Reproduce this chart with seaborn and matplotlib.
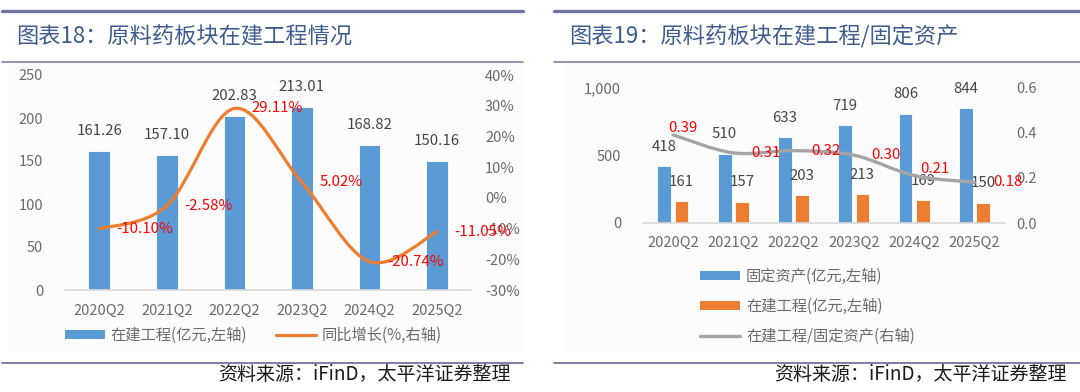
import numpy as np
import pandas as pd
import matplotlib
matplotlib.use('Agg')
import matplotlib.pyplot as plt
from matplotlib.path import Path
from matplotlib.patches import PathPatch, Rectangle, Patch
from matplotlib.lines import Line2D
from matplotlib.ticker import FuncFormatter
import seaborn as sns

# ---------------- data ----------------
quarters = ['2020Q2', '2021Q2', '2022Q2', '2023Q2', '2024Q2', '2025Q2']
cip_values = [161.26, 157.10, 202.83, 213.01, 168.82, 150.16]      # 在建工程 (亿元)
cip_yoy = [-10.10, -2.58, 29.11, 5.02, -20.74, -11.05]             # 同比增长 (%)
fixed_assets = [418, 510, 633, 719, 806, 844]                       # 固定资产 (亿元)
cip_ratio = [0.39, 0.31, 0.32, 0.30, 0.21, 0.18]                    # 在建工程/固定资产

left_title = '图表18：原料药板块在建工程情况'
right_title = '图表19：原料药板块在建工程/固定资产'
source_text = '资料来源：iFinD，太平洋证券整理'
left_legend = ['在建工程(亿元,左轴)', '同比增长(%,右轴)']
right_legend = ['固定资产(亿元,左轴)', '在建工程(亿元,左轴)', '在建工程/固定资产(右轴)']

left_ticks = [0, 50, 100, 150, 200, 250]
left_pct_ticks = [-30, -20, -10, 0, 10, 20, 30, 40]
right_ticks = [0, 500, 1000]
right_ratio_ticks = [0.0, 0.2, 0.4, 0.6]

# ---------------- style ----------------
BLUE = '#5B9BD5'
ORANGE = '#ED7D31'
GRAY = '#A5A5A5'
RED = '#FF0000'
TITLE_C = '#3E5C8E'
RULE_C = '#7373A3'
TICK_C = '#6A6A6A'
LABEL_C = '#454545'

sns.set_style('white')
plt.rcParams['font.family'] = ['Noto Sans CJK SC', 'DejaVu Sans']

W, H = 1080, 392
fig = plt.figure(figsize=(W / 100, H / 100), dpi=100)
fig.patch.set_facecolor('white')


def fx(px):
    return px / W


def fy(py):
    return 1 - py / H


def PX(p):  # pixels -> points
    return p * 0.72


def smooth_path(xs, ys):
    pts = np.column_stack([xs, ys]).astype(float)
    n = len(pts)
    verts = [pts[0]]
    codes = [Path.MOVETO]
    for i in range(n - 1):
        p0 = pts[i - 1] if i > 0 else pts[i]
        p1 = pts[i]
        p2 = pts[i + 1]
        p3 = pts[i + 2] if i + 2 < n else pts[i + 1]
        c1 = p1 + (p2 - p0) / 6.0
        c2 = p2 - (p3 - p1) / 6.0
        verts += [c1, c2, p2]
        codes += [Path.CURVE4] * 3
    return Path(verts, codes)


# panel backgrounds
fig.add_artist(Rectangle((fx(8), fy(352)), fx(522) - fx(8), (352 - 63) / H,
                         transform=fig.transFigure, facecolor='#FCFCFC', edgecolor='none', zorder=-5))
fig.add_artist(Rectangle((fx(563), fy(352)), fx(1080) - fx(563), (352 - 63) / H,
                         transform=fig.transFigure, facecolor='#FCFCFC', edgecolor='none', zorder=-5))

# header / footer rules
for x0, x1 in [(2, 523), (554, 1080)]:
    fig.add_artist(Line2D([fx(x0), fx(x1)], [fy(11), fy(11)], color=RULE_C, lw=2.4,
                          transform=fig.transFigure))
    fig.add_artist(Line2D([fx(x0), fx(x1)], [fy(61.5), fy(61.5)], color=RULE_C, lw=1.1,
                          transform=fig.transFigure))
    fig.add_artist(Line2D([fx(x0), fx(x1)], [fy(362.7), fy(362.7)], color=RULE_C, lw=1.3,
                          transform=fig.transFigure))

fig.text(fx(16.5), fy(36.7), left_title, fontsize=16, color=TITLE_C, ha='left', va='center',
         fontweight='light')
fig.text(fx(569), fy(36.7), right_title, fontsize=16, color=TITLE_C, ha='left', va='center',
         fontweight='light')
fig.text(fx(511), fy(374), source_text, fontsize=13.7, color='#1A1A1A', ha='right', va='center')
fig.text(fx(1067), fy(374), source_text, fontsize=13.7, color='#1A1A1A', ha='right', va='center')


def style_axes(ax, twin, ypad_l, ypad_r, xpad):
    for a in (ax, twin):
        a.patch.set_alpha(0)
        for s in a.spines.values():
            s.set_visible(False)
    ax.spines['bottom'].set_visible(True)
    ax.spines['bottom'].set_color('#D9D9D9')
    ax.spines['bottom'].set_linewidth(1.2)
    ax.tick_params(axis='y', length=0, pad=ypad_l, labelsize=10.5, labelcolor=TICK_C)
    ax.tick_params(axis='x', length=0, pad=xpad, labelsize=10.5, labelcolor=TICK_C)
    twin.tick_params(axis='y', length=0, pad=ypad_r, labelsize=10.5, labelcolor=TICK_C)
    ax.set_xlabel('')
    ax.set_ylabel('')
    twin.set_ylabel('')
    ax.grid(False)
    twin.grid(False)


# ================= left chart =================
axL = fig.add_axes([fx(65.4), fy(290), fx(470.8) - fx(65.4), (290 - 75) / H])
sns.barplot(x=quarters, y=cip_values, color=BLUE, saturation=1, width=0.32,
            errorbar=None, edgecolor='white', linewidth=0.6, ax=axL)
axL.set_xlim(-0.5, len(quarters) - 0.5)
axL.set_ylim(left_ticks[0], left_ticks[-1])
axL.set_yticks(left_ticks)
axL.yaxis.set_major_formatter(FuncFormatter(lambda v, p: f'{v:.0f}'))

axL2 = axL.twinx()
axL2.set_ylim(left_pct_ticks[0], left_pct_ticks[-1])
axL2.set_yticks(left_pct_ticks)
axL2.yaxis.set_major_formatter(FuncFormatter(lambda v, p: f'{v:.0f}%'))
axL2.add_patch(PathPatch(smooth_path(np.arange(len(quarters)), cip_yoy), fill=False,
                         edgecolor=ORANGE, lw=2.3, capstyle='round', zorder=3))
style_axes(axL, axL2, PX(22.4), PX(14.2), PX(14))

for bar, v in zip(axL.containers[0], cip_values):
    axL.annotate(f'{v:.2f}', (bar.get_x() + bar.get_width() / 2, bar.get_height()),
                 xytext=(0, PX(20)), textcoords='offset points', ha='center', va='center',
                 fontsize=10.8, color=LABEL_C)
for i, v in enumerate(cip_yoy):
    axL2.annotate(f'{v:.2f}%', (i, v), xytext=(PX(17.5), 0), textcoords='offset points',
                  ha='left', va='center', fontsize=10.8, color=RED, zorder=5)

handlesL = [Patch(facecolor=BLUE, edgecolor='none'), Line2D([], [], color=ORANGE, lw=2.3)]
fig.legend(handlesL, left_legend, loc='center left', bbox_to_anchor=(fx(65.4), fy(335.7)),
           ncol=2, frameon=False, fontsize=11, labelcolor=TICK_C, handlelength=2.62,
           handleheight=0.5, handletextpad=0.35, columnspacing=1.9, borderpad=0,
           borderaxespad=0)

# ================= right chart =================
axR = fig.add_axes([fx(642.8), fy(223), fx(1004.5) - fx(642.8), (223 - 87.3) / H])
df = pd.DataFrame({
    'quarter': quarters * 2,
    'value': fixed_assets + cip_values,
    'series': [right_legend[0]] * len(quarters) + [right_legend[1]] * len(quarters),
})
sns.barplot(data=df, x='quarter', y='value', hue='series', palette=[BLUE, ORANGE],
            saturation=1, width=0.572, gap=0.2, errorbar=None, legend=False,
            edgecolor='white', linewidth=0.6, ax=axR)
axR.set_xlim(-0.5, len(quarters) - 0.5)
axR.set_ylim(right_ticks[0], right_ticks[-1])
axR.set_yticks(right_ticks)
axR.yaxis.set_major_formatter(FuncFormatter(lambda v, p: f'{v:,.0f}'))

axR2 = axR.twinx()
axR2.set_ylim(right_ratio_ticks[0], right_ratio_ticks[-1])
axR2.set_yticks(right_ratio_ticks)
axR2.yaxis.set_major_formatter(FuncFormatter(lambda v, p: f'{v:.1f}'))
axR2.add_patch(PathPatch(smooth_path(np.arange(len(quarters)), cip_ratio), fill=False,
                         edgecolor=GRAY, lw=2.4, capstyle='round', zorder=3))
style_axes(axR, axR2, PX(21.8), PX(12.2), PX(13))

for cont in axR.containers:
    for bar in cont:
        h = bar.get_height()
        axR.annotate(f'{h:.0f}', (bar.get_x() + bar.get_width() / 2, h),
                     xytext=(0, PX(19.5)), textcoords='offset points', ha='center',
                     va='center', fontsize=10.8, color=LABEL_C)

ratio_offsets = [(-4.7, 6.5), (17.7, 0), (18, 0), (17.8, 0), (5.8, 6.5), (18.5, 0)]
for i, (v, (dx, dy)) in enumerate(zip(cip_ratio, ratio_offsets)):
    axR2.annotate(f'{v:.2f}', (i, v), xytext=(PX(dx), PX(dy)), textcoords='offset points',
                  ha='left', va='center', fontsize=10.8, color=RED, zorder=5)

handlesR = [Patch(facecolor=BLUE, edgecolor='none'), Patch(facecolor=ORANGE, edgecolor='none'),
            Line2D([], [], color=GRAY, lw=2.4)]
fig.legend(handlesR, right_legend, loc='center left', bbox_to_anchor=(fx(700), fy(306.7)),
           ncol=1, frameon=False, fontsize=11, labelcolor=TICK_C, handlelength=2.62,
           handleheight=0.5, handletextpad=0.4, labelspacing=0.85, borderpad=0,
           borderaxespad=0)

fig.savefig('out.png', dpi=100, facecolor='white')
